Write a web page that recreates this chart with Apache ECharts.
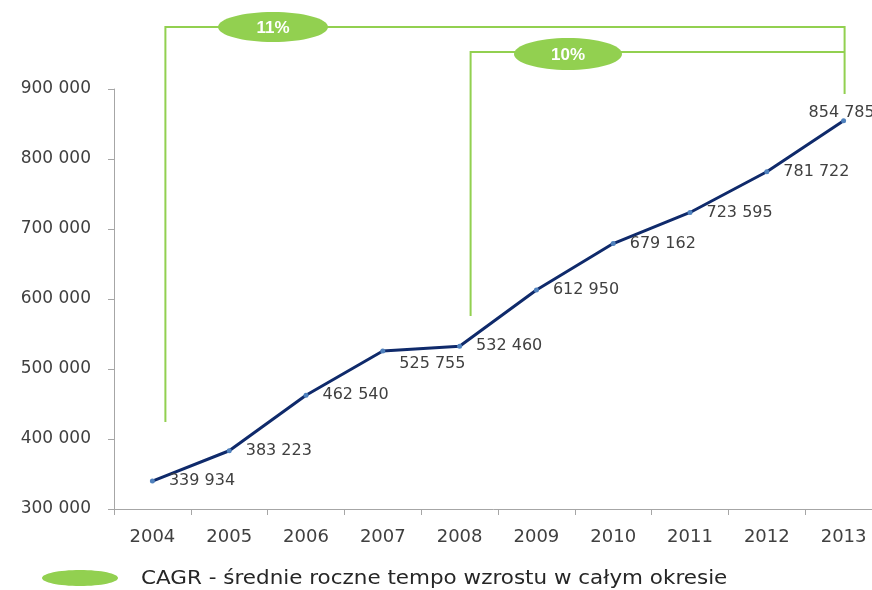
<!DOCTYPE html>
<html>
<head>
<meta charset="utf-8">
<script src="https://cdn.jsdelivr.net/npm/echarts@6/dist/echarts.min.js"></script>
<style>html,body{margin:0;padding:0;background:#fff}#c{width:872px;height:590px}</style>
</head>
<body>
<div id="c"></div>
<script>
var years = ['2004','2005','2006','2007','2008','2009','2010','2011','2012','2013'];
var values = [339934, 383223, 462540, 525755, 532460, 612950, 679162, 723595, 781722, 854785];
var yTicks = [300000, 400000, 500000, 600000, 700000, 800000, 900000];
var cagrLabels = ['11%', '10%'];
var cagrStart = ['2004', '2008'];
var legendText = 'CAGR - średnie roczne tempo wzrostu w całym okresie';

function fmt(v){ return String(v).replace(/\B(?=(\d{3})+(?!\d))/g, ' '); }

var chart = echarts.init(document.getElementById('c'), null, {renderer:'canvas'});
var green = '#92d050';
var font = 'DejaVu Sans';

var dataItems = values.map(function(v, i){
  var item = {value: v};
  if (i === 3) item.label = {offset: [0, 13]};
  if (i === values.length - 1) item.label = {position: 'top', distance: 1, offset: [-2, 4]};
  return item;
});

chart.setOption({
  animation: false,
  grid: {left: 114, top: 89, width: 768, height: 420, containLabel: false, outerBoundsMode: 'none'},
  xAxis: {
    type: 'category', data: years, boundaryGap: true,
    axisLine: {lineStyle: {color: '#a6a6a6', width: 1}},
    axisTick: {show: true, length: 6, lineStyle: {color: '#a6a6a6'}},
    axisLabel: {fontFamily: font, fontSize: 18, color: '#404040', margin: 19}
  },
  yAxis: {
    type: 'value', min: yTicks[0], max: yTicks[yTicks.length-1], interval: 100000,
    axisLine: {show: true, lineStyle: {color: '#a6a6a6', width: 1}},
    axisTick: {show: true, length: 6, lineStyle: {color: '#a6a6a6'}},
    splitLine: {show: false},
    axisLabel: {fontFamily: font, fontSize: 17, color: '#404040', margin: 23, formatter: fmt}
  },
  series: [{
    type: 'line', data: dataItems,
    lineStyle: {color: '#0f2a6b', width: 3},
    itemStyle: {color: '#4f81bd'},
    symbol: 'circle', symbolSize: 5, showSymbol: true,
    label: {show: true, position: 'right', distance: 14, fontFamily: font, fontSize: 16, color: '#404040', formatter: function(p){return fmt(p.value);}}
  }]
});

var x0 = chart.convertToPixel({xAxisIndex:0}, cagrStart[0]) + 13;
var x1 = chart.convertToPixel({xAxisIndex:0}, cagrStart[1]) + 11;
var xe = chart.convertToPixel({xAxisIndex:0}, years[years.length-1]) + 1;

chart.setOption({
  graphic: [
    {type:'polyline', shape:{points:[[x0,422],[x0,27],[xe,27],[xe,94]]}, style:{stroke:green, lineWidth:2, fill:null}},
    {type:'polyline', shape:{points:[[x1,316],[x1,52],[xe,52]]}, style:{stroke:green, lineWidth:2, fill:null}},
    {type:'ellipse', shape:{cx:273, cy:27, rx:55, ry:15}, style:{fill:green}},
    {type:'text', x:273, y:28, style:{text:cagrLabels[0], fill:'#fff', font:'bold 17px Arial, "Liberation Sans"', align:'center', verticalAlign:'middle'}},
    {type:'ellipse', shape:{cx:568, cy:54, rx:54, ry:16}, style:{fill:green}},
    {type:'text', x:568, y:55, style:{text:cagrLabels[1], fill:'#fff', font:'bold 17px Arial, "Liberation Sans"', align:'center', verticalAlign:'middle'}},
    {type:'ellipse', shape:{cx:80, cy:578, rx:38, ry:8}, style:{fill:green}},
    {type:'text', x:141, y:579, scaleX:1.13, style:{text:legendText, fill:'#262626', font:'19px "DejaVu Sans"', align:'left', verticalAlign:'middle'}}
  ]
});
</script>
</body>
</html>
